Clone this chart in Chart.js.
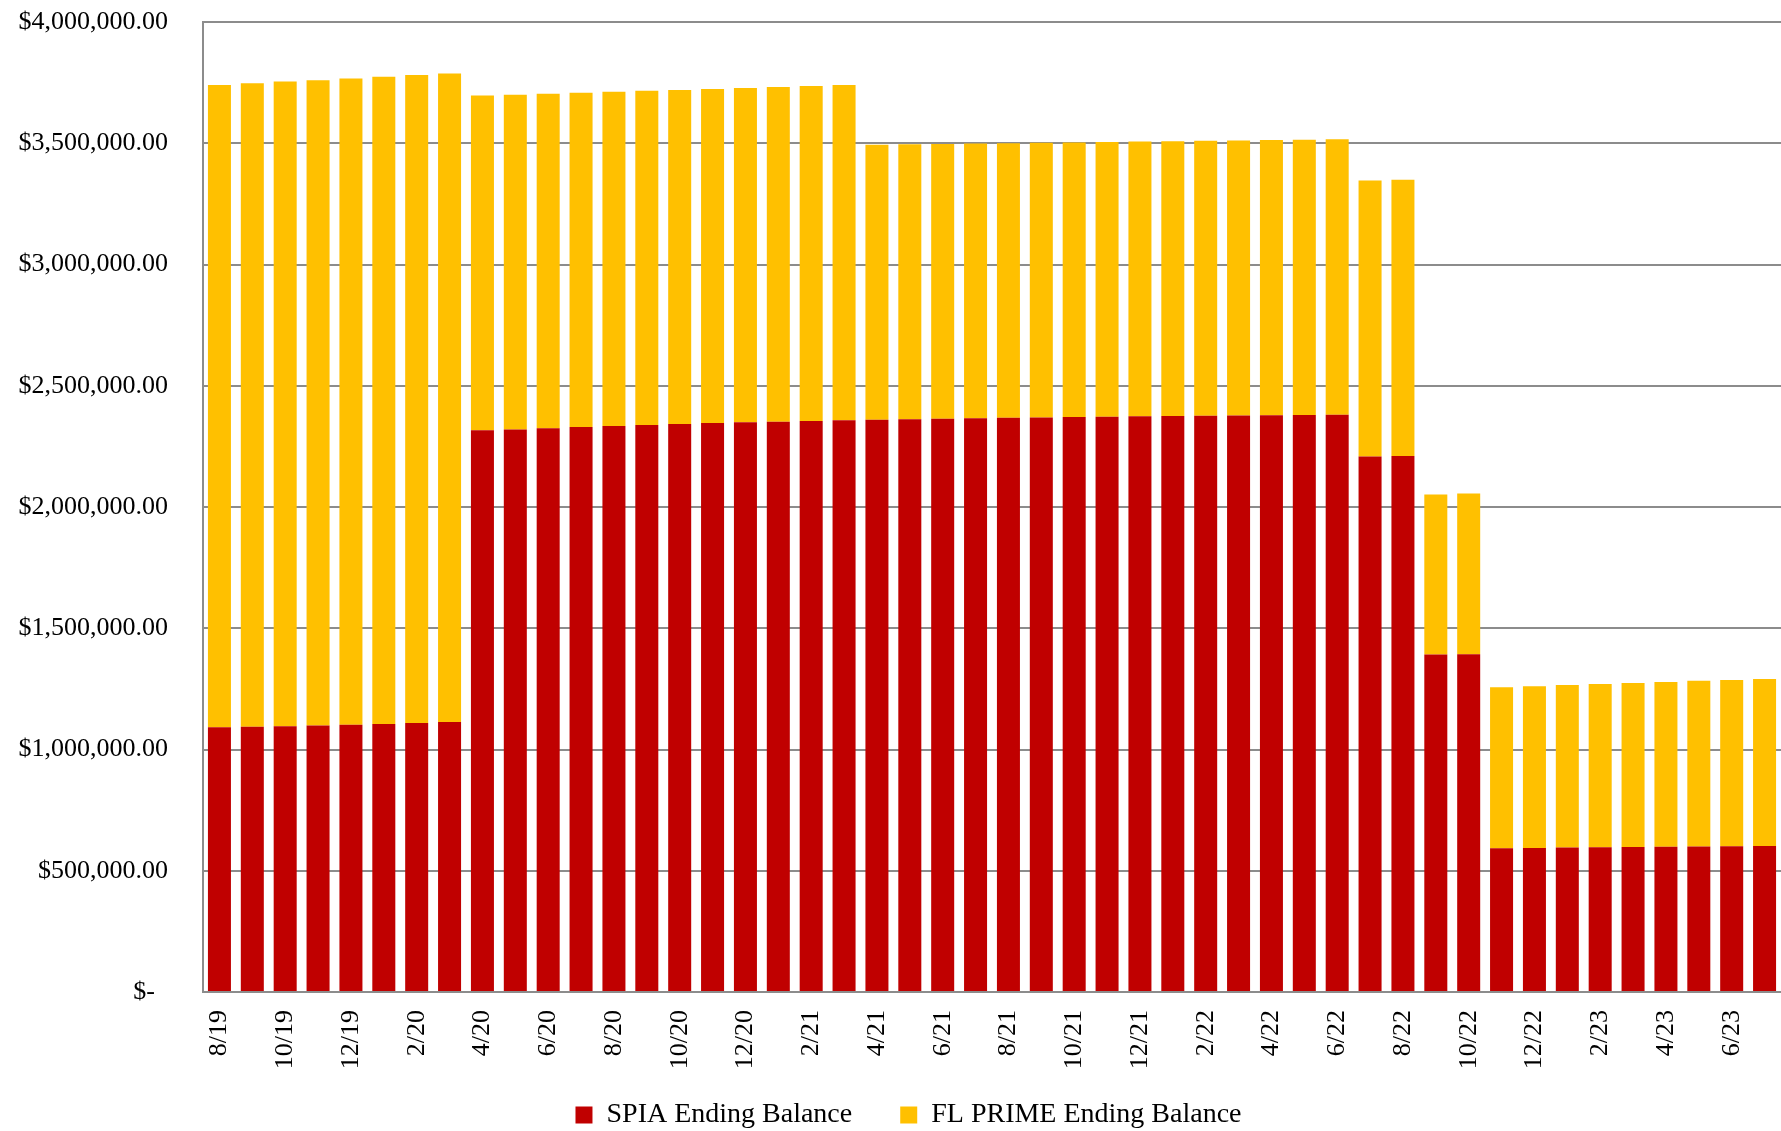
<!DOCTYPE html>
<html>
<head>
<meta charset="utf-8">
<title>SPIA / FL PRIME Ending Balance</title>
<script src="https://cdn.jsdelivr.net/npm/chart.js@4"></script>
<style>
  body { margin: 0; background: #fff; }
  #wrap { width: 1781px; height: 1131px; }
</style>
</head>
<body>
<div id="wrap"><canvas id="myChart" width="1781" height="1131"></canvas></div>
<script>
// months 8/19 .. 7/23
const months = [
    '8/19', '9/19', '10/19', '11/19', '12/19',
    '1/20', '2/20', '3/20', '4/20', '5/20', '6/20', '7/20', '8/20', '9/20', '10/20', '11/20', '12/20',
    '1/21', '2/21', '3/21', '4/21', '5/21', '6/21', '7/21', '8/21', '9/21', '10/21', '11/21', '12/21',
    '1/22', '2/22', '3/22', '4/22', '5/22', '6/22', '7/22', '8/22', '9/22', '10/22', '11/22', '12/22',
    '1/23', '2/23', '3/23', '4/23', '5/23', '6/23', '7/23'
];

const spiaBalance = [
    1092000, 1094000, 1096000, 1099000, 1102000,
    1105000, 1109000, 1113000, 2316000, 2320000, 2325000, 2330000, 2334000, 2338000, 2342000, 2346000, 2349000,
    2352000, 2355000, 2358000, 2360000, 2362000, 2364000, 2366000, 2368000, 2369000, 2371000, 2372000, 2374000,
    2375000, 2376000, 2377000, 2378000, 2379000, 2380000, 2208000, 2210000, 1392000, 1393000, 593000, 594000,
    596000, 597000, 598000, 599000, 600000, 601000, 602000
];

const flPrimeBalance = [
    2648000, 2653000, 2659000, 2661000, 2665000,
    2669000, 2672000, 2675000, 1381000, 1380000, 1379000, 1378000, 1378000, 1378000, 1378000, 1378000, 1379000,
    1380000, 1381000, 1382000, 1134000, 1134000, 1133000, 1133000, 1132000, 1133000, 1132000, 1133000, 1133000,
    1133000, 1134000, 1134000, 1135000, 1135000, 1137000, 1138000, 1140000, 660000, 663000, 664000, 667000,
    670000, 673000, 676000, 679000, 683000, 686000, 689000
];

const yTicks = [0, 500000, 1000000, 1500000, 2000000, 2500000, 3000000, 3500000, 4000000];

const fontFamily = "'Liberation Serif', 'Times New Roman', serif";
const gridColor = '#8c8c8c';

function money(v) {
    if (v === 0) return '$-  ';
    return '$' + v.toLocaleString('en-US', { minimumFractionDigits: 2, maximumFractionDigits: 2 });
}

// the x labels hang down into the legend band, so let them draw past the scale box;
// legend sits a bit right of centre in the original
const labelRoom = {
    id: 'labelRoom',
    afterLayout(chart) {
        chart.scales.x.bottom = chart.height;
        chart.legend.left += 18;
        chart.legend.right += 18;
    }
};

const ctx = document.getElementById('myChart').getContext('2d');
const myChart = new Chart(ctx, {
    type: 'bar',
    data: {
        labels: months,
        datasets: [{
            label: 'SPIA Ending Balance',
            data: spiaBalance,
            backgroundColor: '#C00000',
            barPercentage: 0.7,
            categoryPercentage: 1.0
        }, {
            label: 'FL PRIME Ending Balance',
            data: flPrimeBalance,
            backgroundColor: '#FFC000',
            barPercentage: 0.7,
            categoryPercentage: 1.0
        }]
    },
    plugins: [labelRoom],
    options: {
        responsive: false,
        animation: false,
        devicePixelRatio: 1,
        layout: { padding: { top: 22, right: 0, bottom: -8, left: 0 } },
        plugins: {
            tooltip: { enabled: false },
            legend: {
                position: 'bottom',
                labels: {
                    color: '#000',
                    font: { family: fontFamily, size: 28 },
                    boxWidth: 17,
                    boxHeight: 17,
                    padding: 48
                }
            }
        },
        scales: {
            x: {
                stacked: true,
                grid: { display: false, drawTicks: false },
                border: { display: true, color: gridColor, width: 2 },
                ticks: {
                    autoSkip: false,
                    maxRotation: 90,
                    minRotation: 90,
                    padding: 18,
                    color: '#000',
                    font: { family: fontFamily, size: 26 },
                    callback: function(value, index) {
                        return index % 2 === 0 ? months[index] : '';
                    }
                },
                afterFit: function(scale) {
                    scale.height = 61;
                    scale.paddingLeft = 0;
                    scale.paddingRight = 0;
                }
            },
            y: {
                stacked: true,
                min: 0,
                max: 4000000,
                afterBuildTicks: function(scale) {
                    scale.ticks = yTicks.map(v => ({ value: v }));
                },
                grid: { color: gridColor, lineWidth: 2, drawTicks: false },
                border: { display: true, color: gridColor, width: 2 },
                ticks: {
                    padding: 35,
                    color: '#000',
                    font: { family: fontFamily, size: 26 },
                    callback: function(value) { return money(value); }
                },
                afterFit: function(scale) {
                    scale.width = 203;
                    scale.paddingTop = 0;
                    scale.paddingBottom = 0;
                }
            }
        }
    }
});
</script>
</body>
</html>
